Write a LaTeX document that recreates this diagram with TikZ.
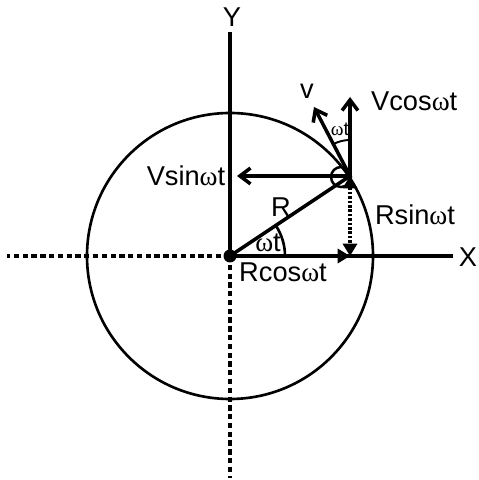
\documentclass[tikz,border=0pt]{standalone}
\usepackage{fontspec}
\setmainfont{Liberation Sans}
\newfontfamily\omfont{Liberation Serif}
\usetikzlibrary{arrows.meta,positioning,calc}
\newcommand{\wt}{{\omfont ω}t}

\begin{document}
\begin{tikzpicture}[x=0.02cm,y=0.02cm,font=\fontsize{15.5}{18}\selectfont,
 axis/.style={line width=2.3pt},
 dashaxis/.style={line width=1.9pt,dash pattern=on 3pt off 2pt},
 vec/.style={line width=2pt,-{Straight Barb[length=6pt,width=9pt]}},
 comp/.style={line width=2pt,-{Triangle[length=7pt,width=8pt]}},
 small/.style={font=\fontsize{11}{13}\selectfont}]
\useasboundingbox (0,0) rectangle (478,480);
\coordinate (o) at (230,224);
\coordinate (p) at (350,304);
\coordinate (ytop) at (230,448);
\coordinate (ybot) at (230,2);
\coordinate (xend) at (453,224);
\coordinate (xbeg) at (7,224);
\coordinate (foot) at (350,224);
\coordinate (vs) at (237,304);
\coordinate (vc) at (350,383);
\coordinate (vv) at (314,373);
% axes
\draw[axis] (o) -- (ytop);
\draw[axis] (o) -- (xend);
\draw[dashaxis] (o) -- (xbeg);
\draw[dashaxis] (o) -- (ybot);
\node (ylab) at (232,463) {Y};
\node (xlab) at (468,223) {X};
\draw[line width=1.5pt] (o) circle (143);
% radius and components
\draw[line width=2pt] (o) -- (p);
\draw[comp] (o) -- (foot);
\draw[line width=2pt,dash pattern=on 1.4pt off 1.1pt,
 {Triangle[length=7pt,width=8pt]}-{Triangle[length=7pt,width=8pt]}] (p) -- (foot);
\draw[line width=1.4pt] (341,303) circle (10);
\fill (o) circle (6.5);
\draw[line width=1.5pt] ($(o)+(55,0)$) arc[start angle=0,end angle=33.7,radius=55];
% velocity
\draw[vec] (p) -- (vs);
\draw[vec] (p) -- (vc);
\draw[vec] (p) -- (vv);
\draw[line width=1.1pt] ($(p)+(0,36)$) arc[start angle=90,end angle=117.5,radius=36];
\node (rl) at (281,273) {R};
\node (wo) at (268,237) {\wt};
\node (rc) at (283,208) {Rcos\wt};
\node (rs) at (415,265) {Rsin\wt};
\node (vsl) at (186,304) {Vsin\wt};
\node[anchor=west] (vcl) at (365,379) {Vcos\wt};
\node (vl) at (307,389) {v};
\node[small] (wp) at (340,351) {\wt};
\end{tikzpicture}
\end{document}
